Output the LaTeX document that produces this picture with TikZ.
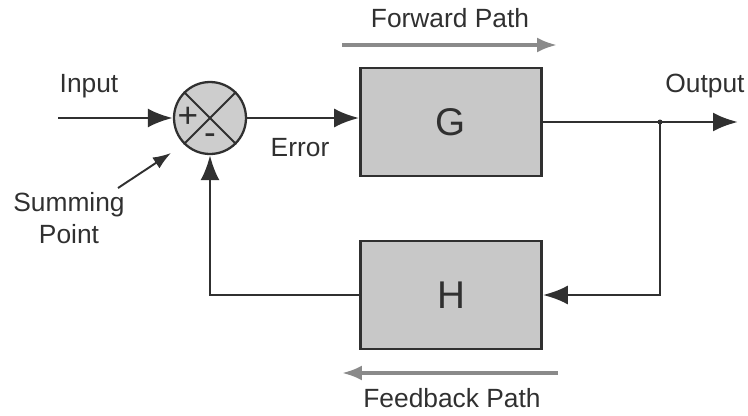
\documentclass[tikz,border=0pt]{standalone}
\usepackage{fontspec}
\setmainfont{Liberation Sans}
\usepackage{tikz}
\usetikzlibrary{positioning, arrows.meta}

\definecolor{ink}{HTML}{303030}
\definecolor{blockgray}{HTML}{C8C8C8}
\definecolor{pathgray}{HTML}{8A8A8A}

\begin{document}
\begin{tikzpicture}[
  x = 0.02cm,
  y = -0.02cm,
  font = \fontsize{15}{18}\selectfont,
  text = ink,
  block/.style = {
    draw = ink,
    line width = 1.5pt,
    fill = blockgray,
    minimum width = 3.62cm,
    minimum height = 2.16cm,
    font = \fontsize{22}{26}\selectfont
  },
  summer/.style = {
    circle,
    draw = ink,
    line width = 1.3pt,
    fill = blockgray!90,
    minimum size = 1.44cm
  },
  signal/.style = {
    -{Latex[length=0.5cm, width=0.38cm]},
    draw = ink,
    line width = 1.7pt
  },
  pointer/.style = {
    -{Latex[length=0.36cm, width=0.26cm]},
    draw = ink,
    line width = 1.1pt
  },
  direction/.style = {
    -{Latex[length=0.4cm, width=0.3cm]},
    draw = pathgray,
    line width = 2pt
  },
  ]
  \useasboundingbox (0, 0) rectangle (748, 416);

  % Summing junction with its cross.
  \node[summer] (sum) at (210, 118) {};
  \draw[ink, line width=1.1pt] (sum.north west) -- (sum.south east);
  \draw[ink, line width=1.1pt] (sum.north east) -- (sum.south west);
  \node[font=\fontsize{20}{20}\selectfont] (plus) at (188, 117) {+};
  \node[font=\fontsize{20}{20}\selectfont] (minus) at (210, 139) {-};

  % Forward and feedback blocks.
  \node[block] (G) at (451, 122) {G};
  \node[block] (H) at (451, 295) {H};

  % Free ends of the signal lines.
  \coordinate (in) at (58, 118);
  \coordinate (out) at (738, 122);
  \coordinate (branch) at (660, 122);

  % Main loop.
  \draw[signal] (in) -- (sum.west);
  \draw[signal] (sum.east) -- (sum.east -| G.west);
  \draw[signal] (G.east) -- (out);
  \draw[signal] (branch) |- (H.east);
  \draw[signal] (H.west) -| (sum.south);
  \fill[ink] (branch) circle (2.5);

  % Signal labels.
  \node (input) at (89, 86) {Input};
  \node (error) at (300, 148) {Error};
  \node (output) at (705, 86) {Output};

  % Summing point callout.
  \node[align=center, inner sep=0pt] (sumlabel) at (69, 218) {Summing\\Point};
  \coordinate (sumtip) at (171, 153);
  \draw[pointer] (118, 188) -- (sumtip);

  % Path directions.
  \coordinate (fwd-start) at (342, 45);
  \coordinate (fwd-end) at (557, 45);
  \draw[direction] (fwd-start) -- (fwd-end);
  \node (fwdlabel) at (450, 18) {Forward Path};
  \coordinate (fbk-start) at (558, 373);
  \coordinate (fbk-end) at (342, 373);
  \draw[direction] (fbk-start) -- (fbk-end);
  \node (fbklabel) at (452, 398) {Feedback Path};
\end{tikzpicture}
\end{document}
